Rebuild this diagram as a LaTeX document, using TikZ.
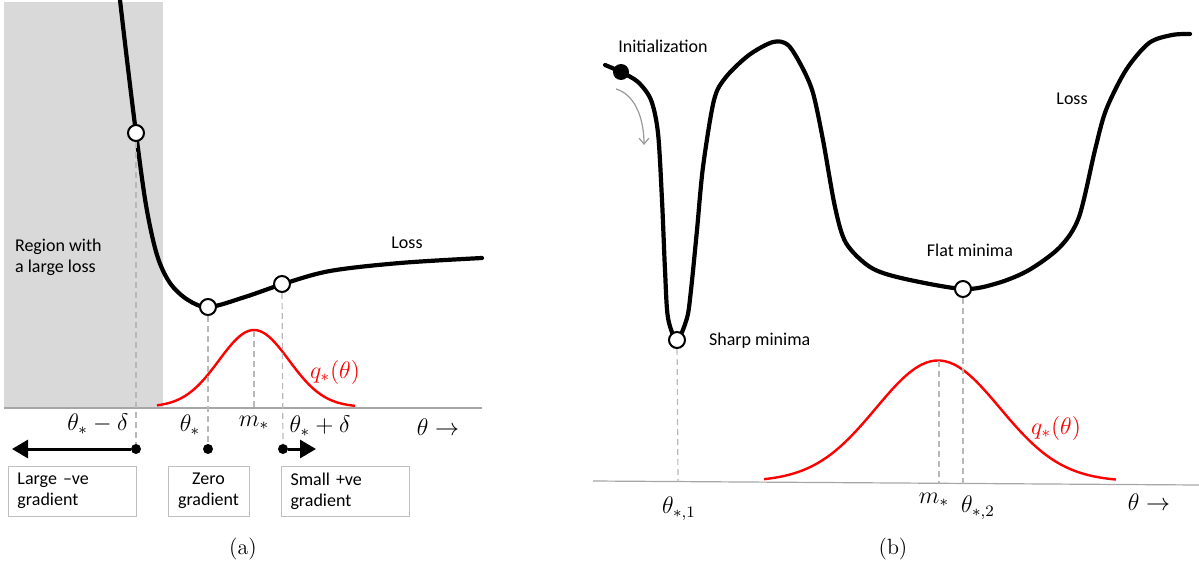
\documentclass[tikz,border=0pt]{standalone}
\usepackage{fontspec}
\newfontfamily\calibfont{Carlito}
\usetikzlibrary{arrows.meta}

\begin{document}
\begin{tikzpicture}[x=0.5pt,y=-0.5pt,
    loss/.style={line width=2.1pt, line cap=round},
    qcurve/.style={red, line width=1.2pt},
    axis/.style={black!35, line width=0.6pt},
    guide/.style={black!28, line width=0.6pt, dash pattern=on 3pt off 2pt},
    minpt/.style={circle, draw, fill=white, line width=1pt, minimum size=8pt, inner sep=0pt},
    gdot/.style={circle, fill=black, minimum size=5pt, inner sep=0pt},
    lbl/.style={font=\calibfont\fontsize{9}{10.5}\selectfont},
    mlbl/.style={font=\fontsize{12}{14}\selectfont},
    captext/.style={font=\fontsize{11}{13}\selectfont},
    gbox/.style={draw=black!25, line width=0.5pt, lbl, minimum height=25pt, inner xsep=4.5pt},
    push/.style={line width=1.5pt, -{Triangle[length=8pt,width=9pt]}},
    flow/.style={black!40, line width=0.6pt, -{Straight Barb[length=3pt,width=5pt]}},
  ]
  \useasboundingbox (0,0) rectangle (1199,567);

  % (a) Bereich mit grossem Verlust
  \fill[black!15] (4,2) rectangle (163,408);
  \draw[axis] (4,408) -- (482,408);

  % (a) Verlustkurve und q
  \draw[loss] plot[smooth, tension=0.55] coordinates {(120,0) (127,60) (136,133) (146,205) (157,255) (170,283) (188,300) (209,307) (245,297) (283,284) (330,271) (400,263) (482,258)};
  \draw[qcurve] plot[domain=157:355, samples=70, smooth] (\x, {407 - 77*exp(-((\x-254)/35)^2/2)});

  % (a) Punkte
  \node[minpt] (pl) at (136,133) {};
  \node[minpt] (pz) at (208,307) {};
  \node[minpt] (pr) at (282,284) {};
  \node[gdot] (dl) at (136,449) {};
  \node[gdot] (dz) at (208,449) {};
  \node[gdot] (dr) at (283,449) {};
  \coordinate (ma) at (254,331);
  \coordinate (mab) at (254,408);
  \coordinate (al) at (12,449);
  \coordinate (ar) at (316,449);

  \draw[guide] (pl) -- (dl);
  \draw[guide] (pz) -- (dz);
  \draw[guide] (pr) -- (dr);
  \draw[guide] (ma) -- (mab);
  \draw[push] (dl) -- (al);
  \draw[push] (dr) -- (ar);

  % (a) Texte
  \node[lbl, align=left, anchor=west] (region) at (8,257) {Region with\\a large loss};
  \node[lbl] (lossa) at (407,243) {Loss};
  \node[mlbl, red] (qa) at (335,372) {$q_*(\theta)$};
  \node[mlbl] (tl) at (98,424) {$\theta_*-\delta$};
  \node[mlbl] (tz) at (190,425) {$\theta_*$};
  \node[mlbl] (mlab) at (254,423) {$m_*$};
  \node[mlbl] (tr) at (320,426) {$\theta_*+\delta$};
  \node[mlbl] (tha) at (438,427) {$\theta\rightarrow$};

  % (a) Kaesten
  \node[gbox, text width=55pt, align=left] (bl) at (72.5,491) {Large \textendash ve\\gradient};
  \node[gbox, text width=31.5pt, align=center] (bz) at (208.5,491) {Zero\\gradient};
  \node[gbox, text width=55pt, align=left] (br) at (345.5,491) {Small +ve\\gradient};
  \node[captext] (capa) at (243,549) {(a)};

  % (b) Achse
  \draw[axis] (593,481) -- (1199,485);

  % (b) Verlustkurve und q
  \draw[loss] plot[smooth, tension=0.5] coordinates {(605,65) (621,72) (638,82) (651,100) (658,133) (662,200) (665,270) (668,318) (677,340) (687,318) (691,290) (697,230) (703,167) (714,100) (726,77) (749,55) (773,42) (788,45) (802,67) (813,93) (823,140) (835,207) (846,243) (870,267) (901,278) (963,289) (998,283) (1029,270) (1060,247) (1079,217) (1095,150) (1106,110) (1126,70) (1149,43) (1172,35) (1190,34)};
  \draw[qcurve] plot[domain=764:1116, samples=90, smooth] (\x, {481.5 - 121*exp(-((\x-938)/62)^2/2)});

  % (b) Punkte
  \node[circle, fill=black, minimum size=8pt, inner sep=0pt] (init) at (621,72) {};
  \node[minpt] (sharp) at (677,340) {};
  \node[minpt] (flat) at (963,289) {};
  \coordinate (sb) at (678,482);
  \coordinate (fb) at (963,484);
  \coordinate (mb) at (939,361);
  \coordinate (mbb) at (939,483);
  \coordinate (g1) at (616,89);
  \coordinate (g2) at (644,145);

  \draw[guide] (sharp) -- (sb);
  \draw[guide] (flat) -- (fb);
  \draw[guide] (mb) -- (mbb);
  \draw[flow] (g1) .. controls (636,95) and (644,120) .. (g2);

  % (b) Texte
  \node[lbl] (initlab) at (663,46) {Initialization};
  \node[lbl] (lossb) at (1072,99) {Loss};
  \node[lbl] (flatlab) at (970,250) {Flat minima};
  \node[lbl, anchor=west] (sharplab) at (702,341) {Sharp minima};
  \node[mlbl, red] (qb) at (1056,428) {$q_*(\theta)$};
  \node[mlbl] (t1) at (679,509) {$\theta_{*,1}$};
  \node[mlbl] (mlb) at (934,500) {$m_*$};
  \node[mlbl] (t2) at (978,508) {$\theta_{*,2}$};
  \node[mlbl] (thb) at (1149,502) {$\theta\rightarrow$};
  \node[captext] (capb) at (893,549) {(b)};
\end{tikzpicture}
\end{document}
